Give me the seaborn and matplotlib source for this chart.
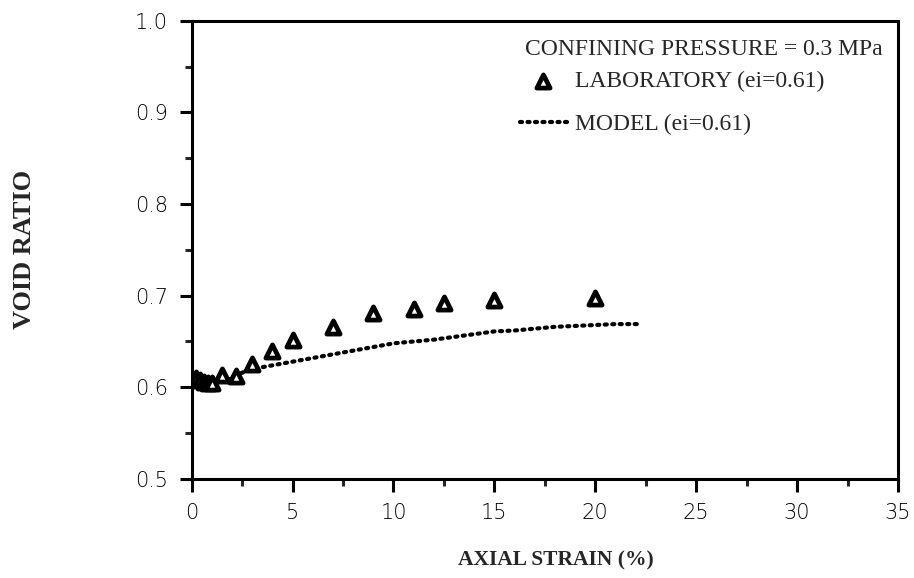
import numpy as np
import pandas as pd
import matplotlib
matplotlib.use("Agg")
import matplotlib.pyplot as plt
import seaborn as sns
from matplotlib.ticker import MultipleLocator, FixedLocator

# ---- data ----
lab_strain = [0.2, 0.4, 0.6, 0.8, 1.0, 1.5, 2.2, 3.0, 4.0, 5.0, 7.0, 9.0, 11.0, 12.5, 15.0, 20.0]
lab_void = [0.610, 0.608, 0.606, 0.605, 0.605, 0.613, 0.612, 0.625, 0.640, 0.652, 0.666, 0.681, 0.686, 0.692, 0.695, 0.698]

model_strain = [0.0, 0.5, 1.0, 1.5, 2.0, 2.5, 3.0, 4.0, 5.0, 6.0, 7.0, 8.0, 9.0, 10.0, 11.0, 12.0,
                13.0, 14.0, 15.0, 16.0, 17.0, 18.0, 19.0, 20.0, 21.0, 22.3]
model_void = [0.610, 0.606, 0.604, 0.606, 0.610, 0.616, 0.620, 0.624, 0.628, 0.632, 0.636, 0.640,
              0.644, 0.648, 0.650, 0.652, 0.655, 0.658, 0.661, 0.662, 0.664, 0.666, 0.667, 0.668,
              0.669, 0.669]

x_ticks = [0, 5, 10, 15, 20, 25, 30, 35]
y_ticks = [0.5, 0.6, 0.7, 0.8, 0.9, 1.0]
y_ticklabels = ["0.5", "0.6", "0.7", "0.8", "0.9", "1.0"]

legend_title = "CONFINING PRESSURE = 0.3 MPa"
lab_label = "LABORATORY (ei=0.61)"
model_label = "MODEL (ei=0.61)"

lab_df = pd.DataFrame({"strain": lab_strain, "void": lab_void})
model_df = pd.DataFrame({"strain": model_strain, "void": model_void})

sns.set_style("ticks")
plt.rcParams['font.family'] = ['Liberation Serif', 'DejaVu Serif']

fig = plt.figure(figsize=(9.14, 5.78), dpi=100)
ax = fig.add_axes([0.2097, 0.1713, 0.7728, 0.7929])

sns.lineplot(data=model_df, x="strain", y="void", ax=ax, color="black",
             linewidth=3.0, linestyle=(0, (0.5, 1.3)), dash_capstyle="round",
             label=model_label)
sns.scatterplot(data=lab_df, x="strain", y="void", ax=ax, marker="^", s=90,
                facecolor="white", edgecolor="black", linewidth=3.4, label=lab_label, zorder=3)

ax.set_xlim(0, 35)
ax.set_ylim(0.5, 1.0)
ax.xaxis.set_major_locator(FixedLocator(x_ticks))
ax.xaxis.set_minor_locator(MultipleLocator(2.5))
ax.yaxis.set_major_locator(FixedLocator(y_ticks))
ax.yaxis.set_minor_locator(MultipleLocator(0.05))
ax.set_yticklabels(y_ticklabels)

for s in ax.spines.values():
    s.set_linewidth(2.2)
    s.set_color("black")
ax.tick_params(which="major", direction="out", length=9, width=2.2, pad=8,
               labelsize=15, colors="black")
ax.tick_params(which="minor", direction="out", length=5, width=2.2)
for lbl in ax.get_xticklabels() + ax.get_yticklabels():
    lbl.set_fontfamily("DejaVu Sans")
    lbl.set_fontweight("light")

ax.set_xlabel("AXIAL STRAIN (%)", fontsize=15.5, fontweight="bold")
ax.set_ylabel("VOID RATIO", fontsize=19, fontweight="bold")
ax.xaxis.set_label_coords(0.515, -0.155)
ax.yaxis.set_label_coords(-0.221, 0.5)

ax.text(0.4717, 0.937, legend_title, transform=ax.transAxes, fontsize=17,
        ha="left", va="center")

handles, labels = ax.get_legend_handles_labels()
order = [labels.index(lab_label), labels.index(model_label)]
leg = ax.legend([handles[i] for i in order], [labels[i] for i in order],
                loc="upper left", bbox_to_anchor=(0.4646, 0.891),
                frameon=False, fontsize=17,
                handlelength=2.0, handletextpad=0.35, labelspacing=0.92,
                borderaxespad=0.0, borderpad=0.0)

fig.savefig("out.png", dpi=100)
